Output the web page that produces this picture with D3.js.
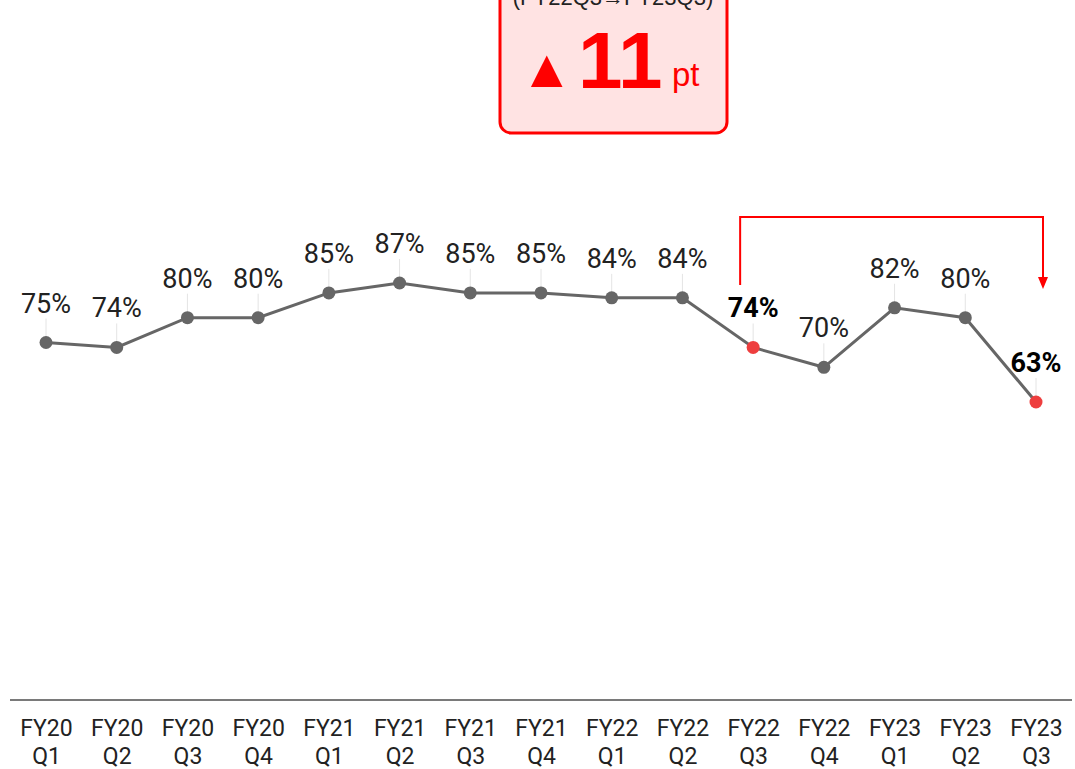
<!DOCTYPE html>
<html>
<head>
<meta charset="utf-8">
<script src="https://cdn.jsdelivr.net/npm/d3@7"></script>
<style>
  body { margin: 0; background: #fff; }
  svg { display: block; }
</style>
</head>
<body>
<svg width="1075" height="769"></svg>
<script>
// data
const years = ["FY20", "FY20", "FY20", "FY20", "FY21", "FY21", "FY21", "FY21", "FY22", "FY22", "FY22", "FY22", "FY23", "FY23", "FY23"];
const quarters = ["Q1", "Q2", "Q3", "Q4", "Q1", "Q2", "Q3", "Q4", "Q1", "Q2", "Q3", "Q4", "Q1", "Q2", "Q3"];
const values = [75, 74, 80, 80, 85, 87, 85, 85, 84, 84, 74, 70, 82, 80, 63];
const highlight = [10, 14]; // FY22Q3, FY23Q3
const boxTitle = "(FY22Q3→FY23Q3)";
const boxValue = "11";
const boxUnit = "pt";

const categories = years.map((y, i) => y + quarters[i]);

const svg = d3.select("svg"),
    width = +svg.attr("width"),
    height = +svg.attr("height");

// scales
const x = d3.scalePoint()
    .domain(categories)
    .range([46, 1036]);

const y = d3.scaleLinear()
    .domain([0, 100])
    .range([714.5, 218.5]);

// x axis
const axisY = 700;
svg.append("line")
    .attr("x1", 10).attr("x2", 1072)
    .attr("y1", axisY).attr("y2", axisY)
    .attr("stroke", "#7a7a7a")
    .attr("stroke-width", 2);

const xAxis = svg.append("g")
    .attr("transform", `translate(0,${axisY})`)
    .call(d3.axisBottom(x).tickSize(0).tickFormat(""));
xAxis.select(".domain").remove();
xAxis.selectAll(".tick text").remove();
xAxis.selectAll(".tick").each(function (d, i) {
    const t = d3.select(this).append("text")
        .attr("text-anchor", "middle")
        .attr("fill", "#222")
        .style("font-family", "Roboto, sans-serif")
        .style("font-size", "23px");
    t.append("tspan").attr("x", 0).attr("y", 36).text(years[i]);
    t.append("tspan").attr("x", 0).attr("y", 64).text(quarters[i]);
});

// leader lines
svg.append("g")
    .selectAll("line")
    .data(values)
    .join("line")
    .attr("x1", (d, i) => x(categories[i]))
    .attr("x2", (d, i) => x(categories[i]))
    .attr("y1", d => y(d) - 24)
    .attr("y2", d => y(d))
    .attr("stroke", "#e4e4e4")
    .attr("stroke-width", 1);

// line
const line = d3.line()
    .x((d, i) => x(categories[i]))
    .y(d => y(d));

svg.append("path")
    .datum(values)
    .attr("d", line)
    .attr("fill", "none")
    .attr("stroke", "#666")
    .attr("stroke-width", 3);

// points
svg.append("g")
    .selectAll("circle")
    .data(values)
    .join("circle")
    .attr("cx", (d, i) => x(categories[i]))
    .attr("cy", d => y(d))
    .attr("r", 6.5)
    .attr("fill", (d, i) => highlight.includes(i) ? "#ee3e3e" : "#666");

// value labels
svg.append("g")
    .selectAll("text")
    .data(values)
    .join("text")
    .attr("x", (d, i) => x(categories[i]))
    .attr("y", d => y(d) - 30)
    .attr("text-anchor", "middle")
    .attr("fill", (d, i) => highlight.includes(i) ? "#000" : "#222")
    .style("font-family", "Roboto, sans-serif")
    .style("font-size", "27px")
    .style("font-weight", (d, i) => highlight.includes(i) ? "bold" : "normal")
    .text(d => d + "%");

// red bracket arrow
const xa = x(categories[highlight[0]]) - 13,
    xb = x(categories[highlight[1]]) + 7,
    yTop = 217;
svg.append("path")
    .attr("d", `M${xa},285 V${yTop} H${xb} V280`)
    .attr("fill", "none")
    .attr("stroke", "#f00")
    .attr("stroke-width", 2);
svg.append("path")
    .attr("d", `M${xb - 5},277 L${xb + 5},277 L${xb},289 Z`)
    .attr("fill", "#f00");

// callout box (its top runs past the top edge, as in the source)
const box = svg.append("g")
    .style("font-family", "'Liberation Sans', Arial, sans-serif");
box.append("rect")
    .attr("x", 500).attr("y", -30)
    .attr("width", 227).attr("height", 163)
    .attr("rx", 11)
    .attr("fill", "#ffe3e3")
    .attr("stroke", "#f00")
    .attr("stroke-width", 3);
box.append("text")
    .attr("x", 613).attr("y", 5)
    .attr("text-anchor", "middle")
    .attr("fill", "#222")
    .style("font-size", "22px")
    .text(boxTitle);
box.append("text")
    .attr("x", 520).attr("y", 87)
    .attr("fill", "#f00")
    .style("font-size", "54px")
    .text("▲");
box.append("text")
    .attr("x", 578).attr("y", 88)
    .attr("fill", "#f00")
    .style("font-size", "80px")
    .style("font-weight", "bold")
    .text(boxValue);
box.append("text")
    .attr("x", 672).attr("y", 86)
    .attr("fill", "#f00")
    .style("font-size", "33px")
    .text(boxUnit);
</script>
</body>
</html>
